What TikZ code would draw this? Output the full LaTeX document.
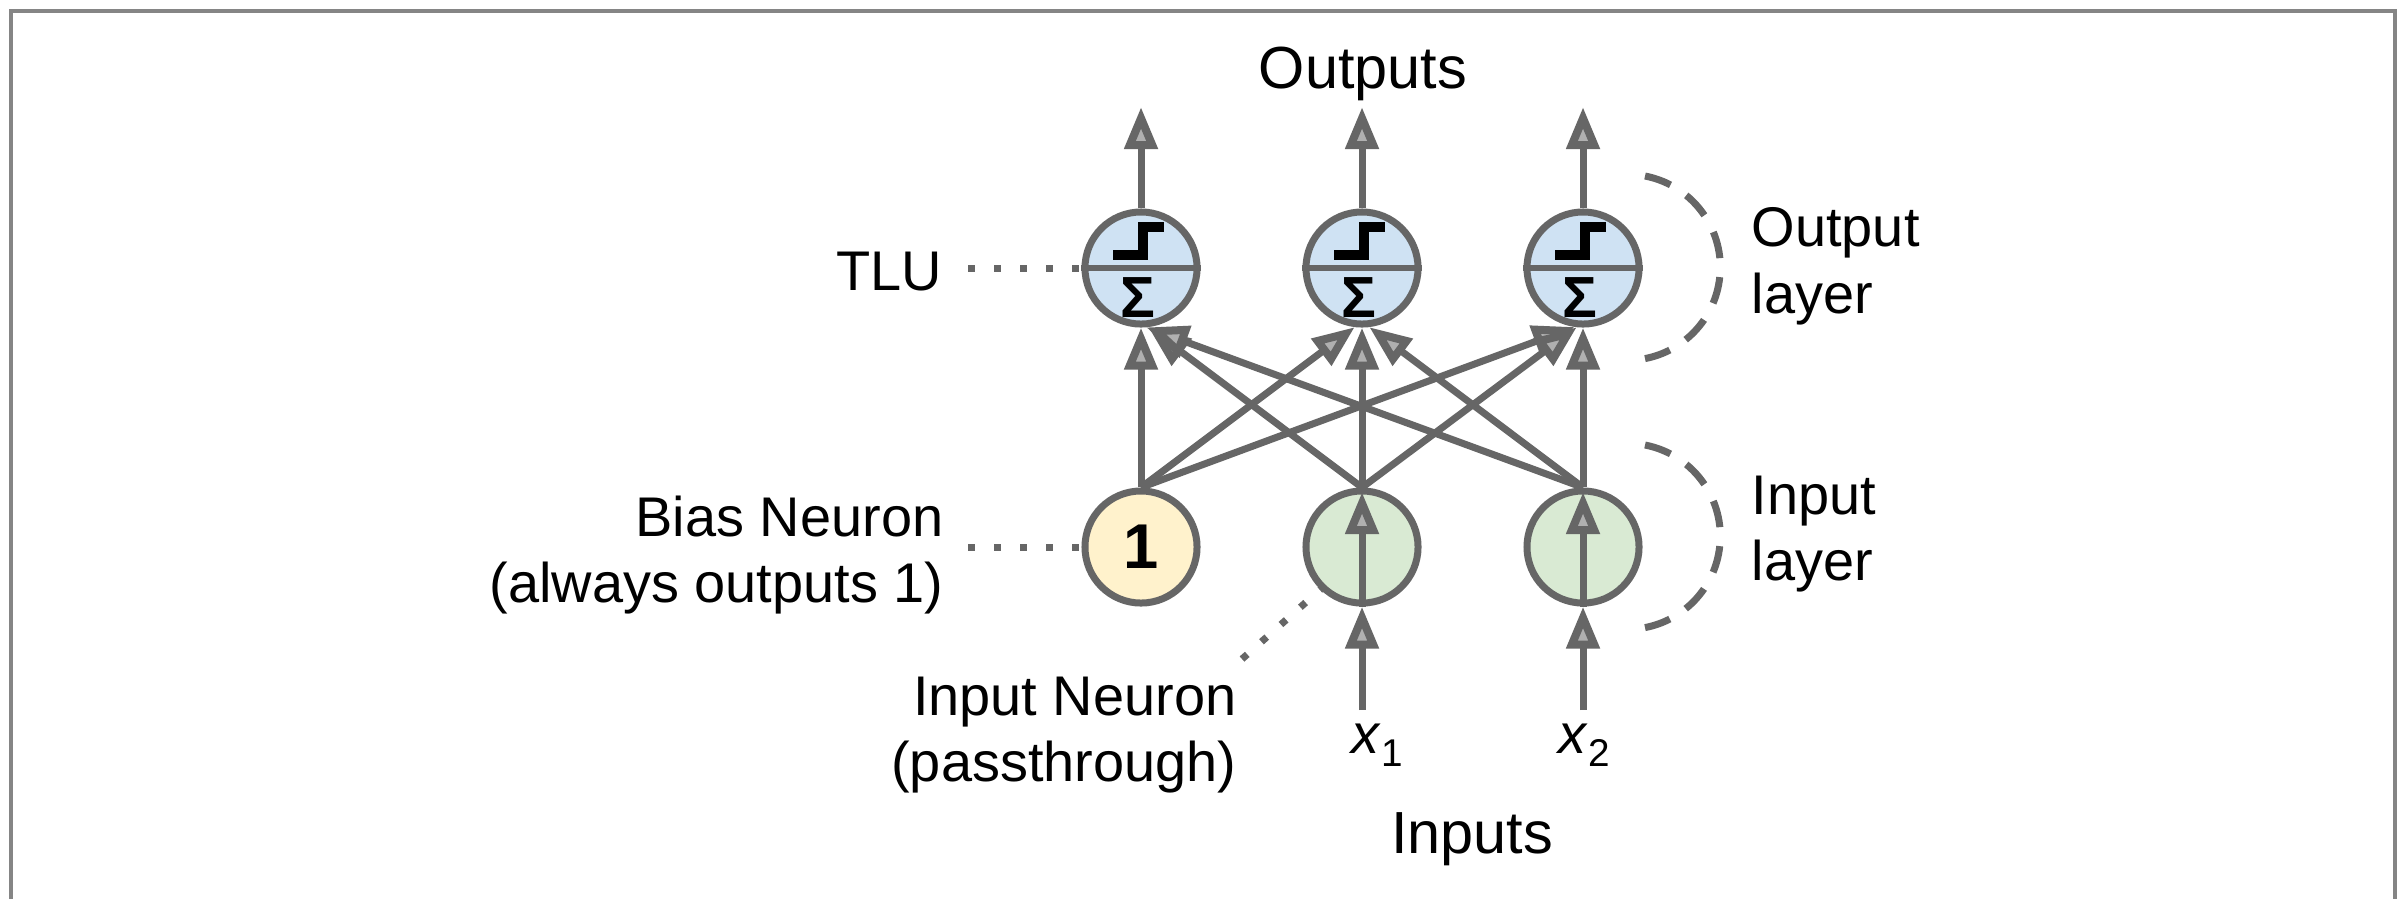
\documentclass[tikz,border=0pt]{standalone}
\usepackage{fontspec}
\setmainfont{Liberation Sans}
\usetikzlibrary{arrows.meta}
\definecolor{ln}{HTML}{666666}
\definecolor{tipin}{HTML}{B0B0B0}
\definecolor{cblue}{HTML}{CFE2F3}
\definecolor{cyel}{HTML}{FFF2CC}
\definecolor{cgrn}{HTML}{D9EAD3}
\tikzset{
  neuron/.style={circle,draw=ln,line width=0.07cm,minimum size=1.12cm,inner sep=0pt},
  tlu/.style={neuron,fill=cblue},
  bias/.style={neuron,fill=cyel,font=\fontsize{18}{19}\selectfont\bfseries},
  inp/.style={neuron,fill=cgrn},
  lbl/.style={inner sep=0pt,text=black,font=\fontsize{15.9}{19}\selectfont},
  lblbig/.style={inner sep=0pt,text=black,font=\fontsize{16.9}{19}\selectfont},
  conn/.style={draw=ln,line width=0.07cm,-{Triangle[length=0.42cm,width=0.32cm,line width=0.08cm,fill=tipin]}},
  dots/.style={draw=ln,line width=0.07cm,dash pattern=on 0.07cm off 0.19cm},
  brace/.style={draw=ln,line width=0.07cm,dash pattern=on 0.27cm off 0.19cm},
  stepmark/.style={draw=black,line width=0.1cm,miter limit=10},
  sigmark/.style={inner sep=0pt,text=black,font=\fontsize{16.5}{16}\selectfont\bfseries}
}
\begin{document}
\begin{tikzpicture}[x=0.01cm,y=-0.01cm]
\useasboundingbox (0,0) rectangle (2401,899);
\fill[white] (0,0) rectangle (2401,899);
\draw[color=ln!80!white,line width=0.035cm] (11,899) -- (11,11) -- (2395,11) -- (2395,899);
% neurons
\node[bias] (b) at (1141,547) {1};
\node[inp] (i1) at (1362,547) {};
\node[inp] (i2) at (1583,547) {};
\foreach \n/\x in {t1/1141,t2/1362,t3/1583}{
  \node[tlu] (\n) at (\x,268) {};
  \draw[draw=ln,line width=0.055cm] (\n.west) -- (\n.east);
  \draw[stepmark] (\x-28,255) -- (\x+2,255) -- (\x+2,227) -- (\x+23,227);
  \node[sigmark] at (\x-3,298) {Σ};
}
% free ends
\coordinate (o1) at (1141,107);
\coordinate (o2) at (1362,107);
\coordinate (o3) at (1583,107);
\coordinate (x1s) at (1362,710);
\coordinate (x2s) at (1583,710);
\coordinate (i1tip) at (1362,492);
\coordinate (i2tip) at (1583,492);
% outputs
\draw[conn] (t1.north) -- (o1);
\draw[conn] (t2.north) -- (o2);
\draw[conn] (t3.north) -- (o3);
% layer connections
\draw[conn] (b.north) -- (t1.270);
\draw[conn] (b.north) -- (t2.263);
\draw[conn] (b.north) -- (t3.262);
\draw[conn] (i1.north) -- (t1.277);
\draw[conn] (i1.north) -- (t2.270);
\draw[conn] (i1.north) -- (t3.264);
\draw[conn] (i2.north) -- (t1.275);
\draw[conn] (i2.north) -- (t2.277);
\draw[conn] (i2.north) -- (t3.270);
% inputs
\draw[conn] (x1s) -- (i1.south);
\draw[conn] (x2s) -- (i2.south);
\draw[conn] (i1.south) -- (i1tip);
\draw[conn] (i2.south) -- (i2tip);
% labels
\node[lblbig] (outs) at (1363,74) {Outputs};
\node[lbl,anchor=east] (ltlu) at (943,272) {TLU};
\node[lbl,anchor=east,align=right] (lbias) at (944,555) {Bias Neuron\\(always outputs 1)};
\node[lbl,anchor=east,align=right] (linp) at (1237,735) {Input Neuron\\(passthrough)};
\node[lbl,anchor=west,align=left] (lout) at (1751,266) {Output\\layer};
\node[lbl,anchor=west,align=left] (lin) at (1751,534) {Input\\layer};
\node[lbl] (lx1) at (1377,745) {\textit{x}\raisebox{-0.45ex}{\fontsize{11}{11}\selectfont 1}};
\node[lbl] (lx2) at (1584,745) {\textit{x}\raisebox{-0.45ex}{\fontsize{11}{11}\selectfont 2}};
\node[lblbig] (linputs) at (1472,839) {Inputs};
% dotted leaders
\coordinate (d1) at (968,268);
\coordinate (d2) at (968,547);
\coordinate (d3) at (1242,659);
\coordinate (d3e) at (1322,588);
\draw[dots] (d1) -- (t1.west);
\draw[dots] (d2) -- (b.west);
\draw[dots] (d3) -- (d3e);
% dashed layer arcs
\coordinate (a1) at (1645,176);
\coordinate (a2) at (1645,445);
\draw[brace] (a1) arc[start angle=79,end angle=-79,x radius=93,y radius=-93];
\draw[brace] (a2) arc[start angle=79,end angle=-79,x radius=93,y radius=-93];
\end{tikzpicture}
\end{document}
